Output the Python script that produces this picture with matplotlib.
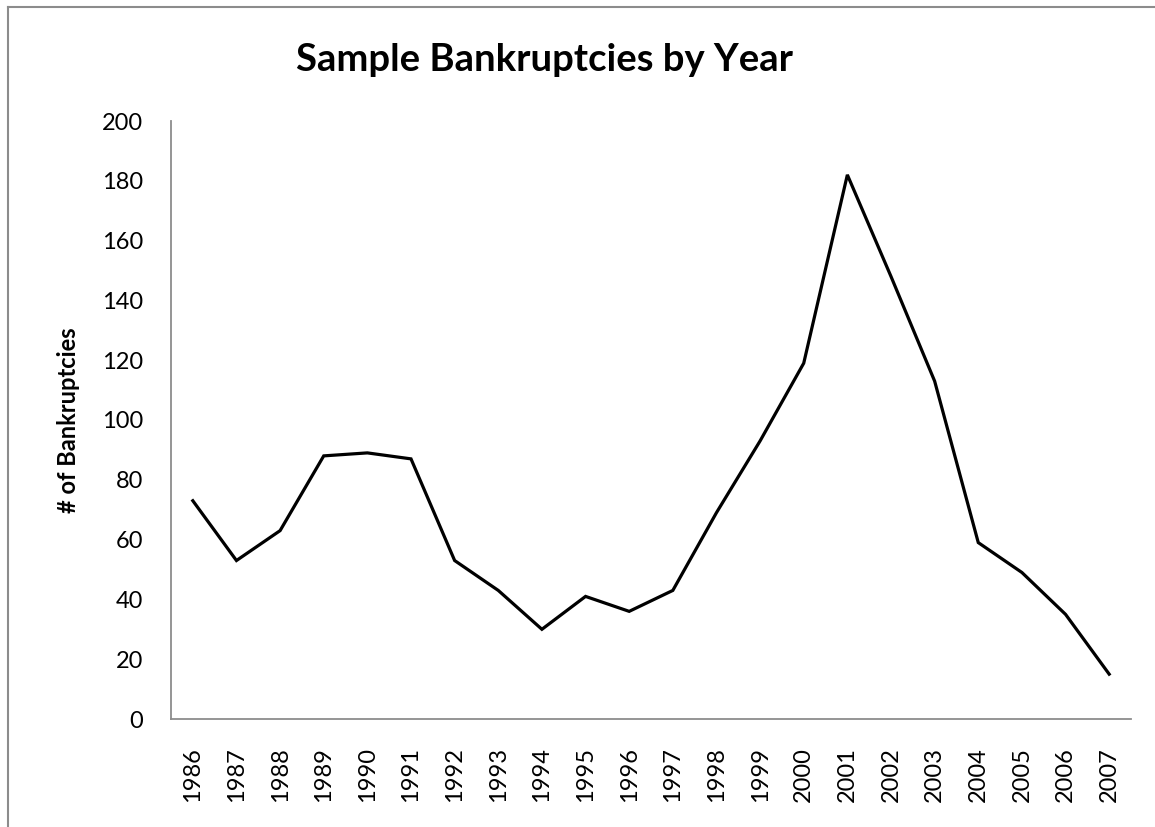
import matplotlib
matplotlib.use('Agg')
import matplotlib.pyplot as plt
from matplotlib.lines import Line2D

# bankruptcies per year
years = [str(y) for y in range(1986, 2008)]
bankruptcies = [73, 53, 63, 88, 89, 87, 53, 43, 30, 41, 36, 43,
                69, 93, 119, 182, 148, 113, 59, 49, 35, 15]
y_ticks = [0, 20, 40, 60, 80, 100, 120, 140, 160, 180, 200]

plt.rcParams['font.family'] = ['Lato', 'DejaVu Sans']

fig = plt.figure(figsize=(11.55, 8.27), dpi=100)
ax = fig.add_axes([171 / 1155, 1 - 719 / 827, 960 / 1155, 598 / 827])

ax.plot(range(len(years)), bankruptcies, color='black', linewidth=2.3,
        solid_joinstyle='miter')

ax.set_xlim(-0.5, len(years) - 0.5)
ax.set_ylim(0, 200)
ax.set_yticks(y_ticks)
ax.set_xticks(range(len(years)))
ax.set_xticklabels(years, rotation=90)
ax.tick_params(axis='both', length=0, labelsize=17)
ax.tick_params(axis='y', pad=20)
ax.tick_params(axis='x', pad=20)

for side in ['top', 'right']:
    ax.spines[side].set_visible(False)
for side in ['left', 'bottom']:
    ax.spines[side].set_color('#8c8c8c')
    ax.spines[side].set_linewidth(1.3)

ax.set_ylabel('# of Bankruptcies', fontsize=17, fontweight='bold')
ax.yaxis.set_label_coords(-0.095, 0.5)

fig.text(545 / 1155, 1 - 60 / 827, 'Sample Bankruptcies by Year',
         fontsize=27.5, fontweight='bold', ha='center', va='center')

# grey frame round the chart (only top and left are visible in the crop)
fig.add_artist(Line2D([8 / 1155, 8 / 1155], [0, 1 - 7 / 827],
                      transform=fig.transFigure, color='#8c8c8c', linewidth=1.5))
fig.add_artist(Line2D([8 / 1155, 1], [1 - 7 / 827, 1 - 7 / 827],
                      transform=fig.transFigure, color='#8c8c8c', linewidth=1.5))

fig.savefig('out.png', dpi=100)
